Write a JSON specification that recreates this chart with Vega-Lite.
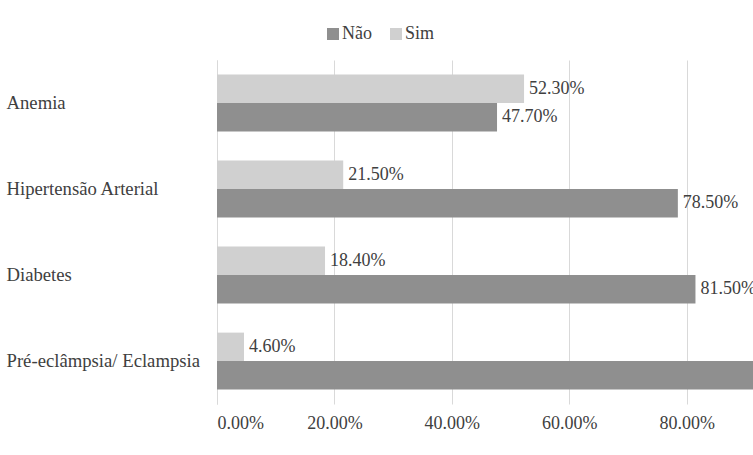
{
  "$schema": "https://vega.github.io/schema/vega-lite/v6.json",
  "autosize": "none",
  "padding": {"left": 217, "top": 60, "right": 0, "bottom": 51},
  "width": 536,
  "height": 344,
  "background": "white",
  "config": {
    "view": {"stroke": null},
    "font": "'Liberation Serif', 'Times New Roman', serif"
  },
  "data": {
    "values": [
      {"cond": "Anemia", "resp": "Sim", "pct": 0.523},
      {"cond": "Anemia", "resp": "Não", "pct": 0.477},
      {"cond": "Hipertensão Arterial", "resp": "Sim", "pct": 0.215},
      {"cond": "Hipertensão Arterial", "resp": "Não", "pct": 0.785},
      {"cond": "Diabetes", "resp": "Sim", "pct": 0.184},
      {"cond": "Diabetes", "resp": "Não", "pct": 0.815},
      {"cond": "Pré-eclâmpsia/ Eclampsia", "resp": "Sim", "pct": 0.046},
      {"cond": "Pré-eclâmpsia/ Eclampsia", "resp": "Não", "pct": 0.954}
    ]
  },
  "encoding": {
    "y": {
      "field": "cond", "type": "nominal", "sort": null,
      "scale": {"paddingInner": 0.34, "paddingOuter": 0.17},
      "axis": {
        "title": null, "ticks": false, "domainColor": "#d9d9d9", "domainWidth": 1,
        "labelAlign": "left", "labelPadding": 211, "labelFontSize": 18.7,
        "labelColor": "#404040", "labelFont": "'Liberation Serif', 'Times New Roman', serif", "labelLimit": 0
      }
    },
    "yOffset": {"field": "resp", "type": "nominal", "sort": ["Sim", "Não"]},
    "x": {
      "field": "pct", "type": "quantitative",
      "scale": {"domain": [0, 0.913], "nice": false},
      "axis": {
        "title": null, "format": ".2%", "values": [0, 0.2, 0.4, 0.6, 0.8],
        "domain": false, "ticks": false, "gridColor": "#d9d9d9",
        "labelPadding": 10, "labelFontSize": 18, "labelColor": "#404040",
        "labelFont": "'Liberation Serif', 'Times New Roman', serif"
      }
    }
  },
  "layer": [
    {
      "mark": {"type": "bar", "clip": true},
      "encoding": {
        "color": {
          "field": "resp", "type": "nominal",
          "scale": {"domain": ["Não", "Sim"], "range": ["#8f8f8f", "#d0d0d0"]},
          "legend": {
            "title": null, "orient": "none", "direction": "horizontal",
            "legendX": 107, "legendY": -35, "symbolType": "square",
            "symbolSize": 144, "symbolStrokeWidth": 0, "labelFontSize": 18,
            "labelColor": "#404040", "labelFont": "'Liberation Serif', 'Times New Roman', serif",
            "columnPadding": 15, "labelOffset": 0
          }
        }
      }
    },
    {
      "mark": {"type": "text", "align": "left", "baseline": "middle", "dx": 5, "fontSize": 18, "color": "#404040", "clip": true, "font": "'Liberation Serif', 'Times New Roman', serif"},
      "encoding": {
        "text": {"field": "pct", "type": "quantitative", "format": ".2%"}
      }
    }
  ]
}
